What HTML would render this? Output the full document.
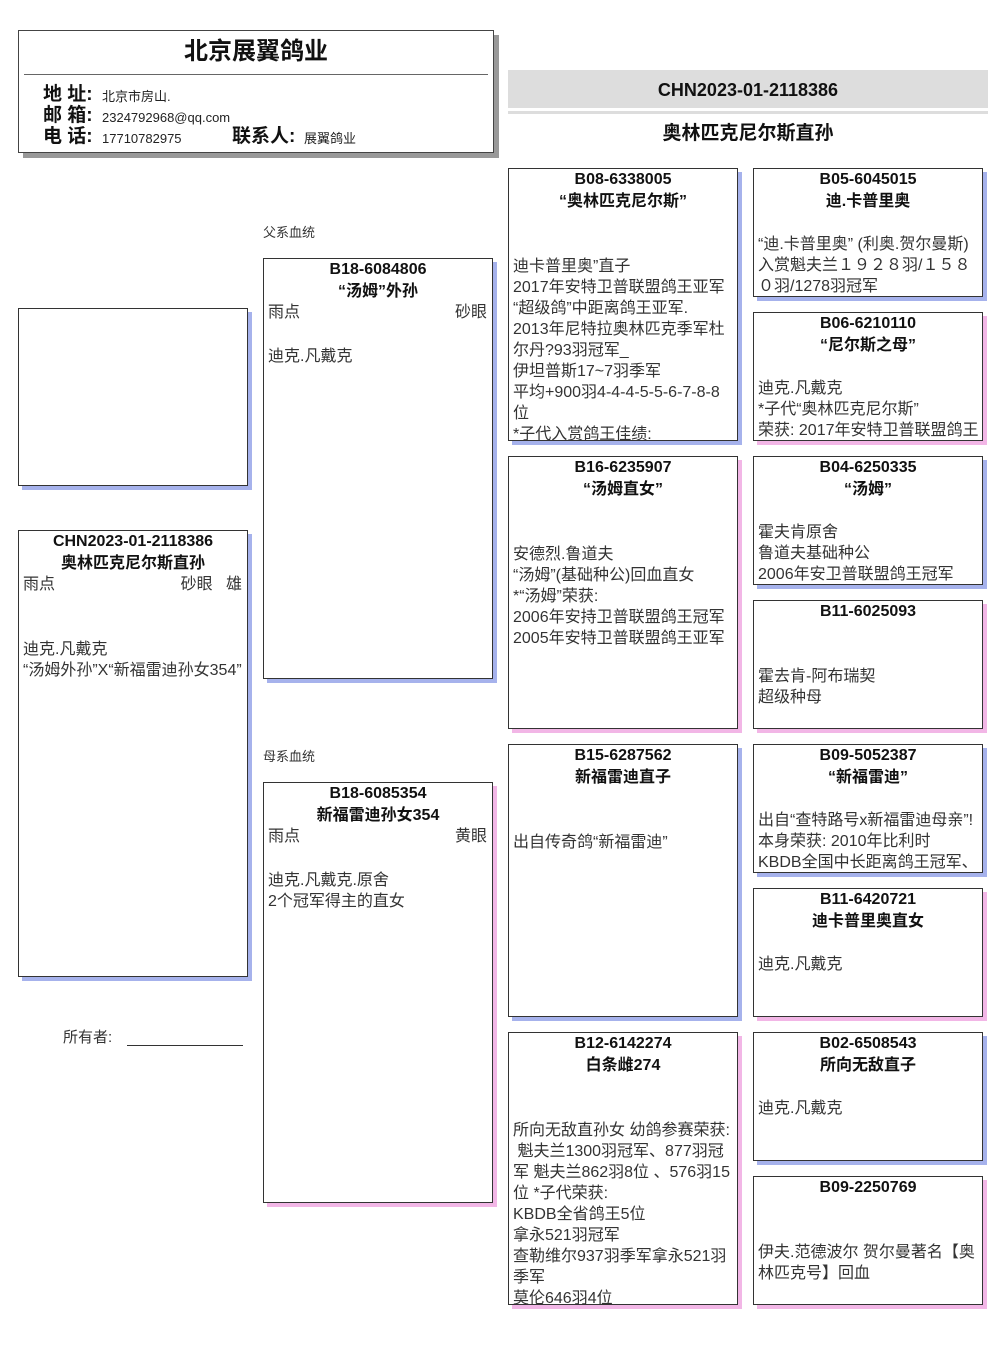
<!DOCTYPE html>
<html><head><meta charset="utf-8"><style>
body{margin:0;width:1006px;height:1366px;background:#fff;position:relative;font-family:"Liberation Sans","Noto Sans CJK SC",sans-serif;color:#222;overflow:hidden}
.a{position:absolute}
.b{position:absolute;box-sizing:border-box;border:1px solid #333;background:#fff;overflow:hidden}
.m{box-shadow:4px 4px 0 #a6b2ec}
.f{box-shadow:4px 4px 0 #f2b6e6}
.t{position:absolute;left:0;right:0;top:0;text-align:center;font-weight:bold;font-size:16px;line-height:22px;color:#111}
.d{position:absolute;left:4px;right:3px;font-size:16px;line-height:21px;color:#333}
.c{position:absolute;left:4px;right:5px;font-size:16px;line-height:21px;color:#333}
.c span{float:right}
</style></head><body>

<div class="b" style="left:18px;top:30px;width:476px;height:123px;box-shadow:5px 5px 0 #999;border-color:#444">
 <div class="a" style="left:0;right:0;top:5px;text-align:center;font-weight:bold;font-size:24px;line-height:32px;color:#111">北京展翼鸽业</div>
 <div class="a" style="left:5px;right:5px;top:43px;border-top:1px solid #666"></div>
 <div class="a" style="left:24px;top:53px;font-size:19px;line-height:21px;font-weight:bold;color:#111">地 址:<br>邮 箱:<br>电 话:</div>
 <div class="a" style="left:83px;top:55px;font-size:13px;line-height:21px;color:#222">北京市房山.<br>2324792968@qq.com<br>17710782975</div>
 <div class="a" style="left:213px;top:95px;font-size:19px;line-height:21px;font-weight:bold;color:#111">联系人:</div>
 <div class="a" style="left:285px;top:97px;font-size:13px;line-height:21px">展翼鸽业</div>
</div>

<div class="a" style="left:508px;top:70px;width:480px;height:38px;background:#ddd;text-align:center;font-weight:bold;font-size:18px;line-height:40px;color:#111">CHN2023-01-2118386</div>
<div class="a" style="left:508px;top:111px;width:480px;height:3px;background:#ddd"></div>
<div class="a" style="left:508px;top:121px;width:480px;text-align:center;font-weight:bold;font-size:19px;line-height:26px;color:#111">奥林匹克尼尔斯直孙</div>

<div class="b m" style="left:18px;top:308px;width:230px;height:178px"></div>

<div class="b m" style="left:18px;top:530px;width:230px;height:447px">
 <div class="t">CHN2023-01-2118386<br>奥林匹克尼尔斯直孙</div>
 <div class="c" style="top:43px">雨点<span>砂眼&nbsp;&nbsp;&nbsp;雄</span></div>
 <div class="d" style="top:108px">迪克.凡戴克<br>“汤姆外孙”X“新福雷迪孙女354”</div>
</div>

<div class="a" style="left:63px;top:1028px;font-size:15px;line-height:20px;color:#333">所有者:</div>
<div class="a" style="left:127px;top:1045px;width:116px;border-top:1px solid #333"></div>

<div class="a" style="left:263px;top:225px;font-size:13px;line-height:16px;color:#333">父系血统</div>
<div class="a" style="left:263px;top:749px;font-size:13px;line-height:16px;color:#333">母系血统</div>

<div class="b m" style="left:263px;top:258px;width:230px;height:421px">
 <div class="t">B18-6084806<br>“汤姆”外孙</div>
 <div class="c" style="top:43px">雨点<span>砂眼</span></div>
 <div class="d" style="top:87px">迪克.凡戴克</div>
</div>
<div class="b f" style="left:263px;top:782px;width:230px;height:421px">
 <div class="t">B18-6085354<br>新福雷迪孙女354</div>
 <div class="c" style="top:43px">雨点<span>黄眼</span></div>
 <div class="d" style="top:87px">迪克.凡戴克.原舍<br>2个冠军得主的直女</div>
</div>

<div class="b m" style="left:508px;top:168px;width:230px;height:273px">
 <div class="t">B08-6338005<br>“奥林匹克尼尔斯”</div>
 <div class="d" style="top:87px">迪卡普里奥”直子<br>2017年安特卫普联盟鸽王亚军<br>“超级鸽”中距离鸽王亚军.<br>2013年尼特拉奥林匹克季军杜尔丹?93羽冠军_<br>伊坦普斯17~7羽季军<br>平均+900羽4-4-4-5-5-6-7-8-8位<br>*子代入赏鸽王佳绩:</div>
</div>
<div class="b f" style="left:508px;top:456px;width:230px;height:273px">
 <div class="t">B16-6235907<br>“汤姆直女”</div>
 <div class="d" style="top:87px">安德烈.鲁道夫<br>“汤姆”(基础种公)回血直女<br>*“汤姆”荣获:<br>2006年安持卫普联盟鸽王冠军<br>2005年安特卫普联盟鸽王亚军</div>
</div>
<div class="b m" style="left:508px;top:744px;width:230px;height:273px">
 <div class="t">B15-6287562<br>新福雷迪直子</div>
 <div class="d" style="top:87px">出自传奇鸽“新福雷迪”</div>
</div>
<div class="b f" style="left:508px;top:1032px;width:230px;height:273px">
 <div class="t">B12-6142274<br>白条雌274</div>
 <div class="d" style="top:87px">所向无敌直孙女 幼鸽参赛荣获: &nbsp;魁夫兰1300羽冠军、877羽冠军 魁夫兰862羽8位 、576羽15位 *子代荣获:<br>KBDB全省鸽王5位<br>拿永521羽冠军<br>查勒维尔937羽季军拿永521羽季军<br>莫伦646羽4位</div>
</div>

<div class="b m" style="left:753px;top:168px;width:230px;height:129px">
 <div class="t">B05-6045015<br>迪.卡普里奥</div>
 <div class="d" style="top:65px">“迪.卡普里奥” (利奥.贺尔曼斯) 入赏魁夫兰１９２８羽/１５８０羽/1278羽冠军</div>
</div>
<div class="b f" style="left:753px;top:312px;width:230px;height:129px">
 <div class="t">B06-6210110<br>“尼尔斯之母”</div>
 <div class="d" style="top:65px">迪克.凡戴克<br>*子代“奥林匹克尼尔斯”<br>荣获: 2017年安特卫普联盟鸽王</div>
</div>
<div class="b m" style="left:753px;top:456px;width:230px;height:129px">
 <div class="t">B04-6250335<br>“汤姆”</div>
 <div class="d" style="top:65px">霍夫肯原舍<br>鲁道夫基础种公<br>2006年安卫普联盟鸽王冠军</div>
</div>
<div class="b f" style="left:753px;top:600px;width:230px;height:129px">
 <div class="t">B11-6025093</div>
 <div class="d" style="top:65px">霍去肯-阿布瑞契<br>超级种母</div>
</div>
<div class="b m" style="left:753px;top:744px;width:230px;height:129px">
 <div class="t">B09-5052387<br>“新福雷迪”</div>
 <div class="d" style="top:65px">出自“查特路号x新福雷迪母亲”!本身荣获: 2010年比利时<br>KBDB全国中长距离鸽王冠军、</div>
</div>
<div class="b f" style="left:753px;top:888px;width:230px;height:129px">
 <div class="t">B11-6420721<br>迪卡普里奥直女</div>
 <div class="d" style="top:65px">迪克.凡戴克</div>
</div>
<div class="b m" style="left:753px;top:1032px;width:230px;height:129px">
 <div class="t">B02-6508543<br>所向无敌直子</div>
 <div class="d" style="top:65px">迪克.凡戴克</div>
</div>
<div class="b f" style="left:753px;top:1176px;width:230px;height:129px">
 <div class="t">B09-2250769</div>
 <div class="d" style="top:65px">伊夫.范德波尔 贺尔曼著名【奥林匹克号】回血</div>
</div>

</body></html>
